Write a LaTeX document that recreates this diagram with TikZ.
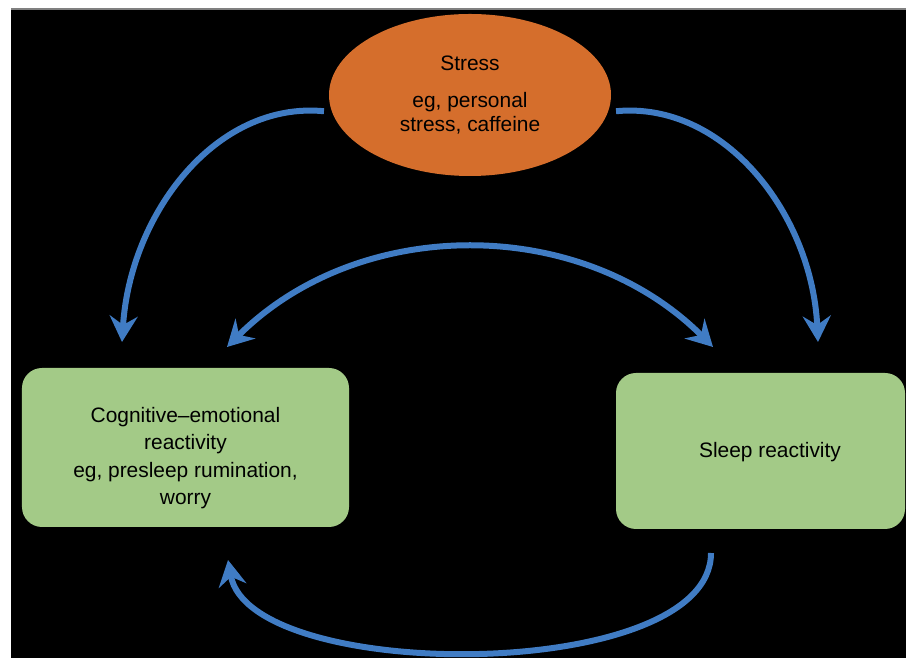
\documentclass[tikz,border=0pt]{standalone}
\usepackage{fontspec}
\setmainfont{Liberation Sans}
\usetikzlibrary{shapes.geometric, arrows.meta, positioning, calc}
\definecolor{arrowblue}{RGB}{64,124,196}
\definecolor{stressorange}{RGB}{213,110,44}
\definecolor{boxgreen}{RGB}{163,202,135}
\begin{document}
\begin{tikzpicture}[x=1bp,y=1bp,
    stressnode/.style={ellipse,fill=stressorange,minimum width=282bp,minimum height=162bp,inner sep=0pt,align=center,font=\fontsize{21}{24}\selectfont},
    reactbox/.style={rectangle,rounded corners=20bp,fill=boxgreen,inner sep=0pt},
    boxtext/.style={align=center,font=\fontsize{21}{27.7}\selectfont},
    flow/.style={draw=arrowblue,line width=6bp,-{Stealth[length=26bp,width=28bp,inset=9bp]}},
    twoway/.style={draw=arrowblue,line width=6bp,{Stealth[length=26bp,width=28bp,inset=9bp]}-{Stealth[length=26bp,width=28bp,inset=9bp]}}]
      \useasboundingbox (0,0) rectangle (906,658);
      \fill[white] (0,0) rectangle (906,658);
      \fill[black] (11,0) rectangle (906,649);
      \draw[gray,line width=1.5bp] (11,649) -- (906,649);

      % nodes
      \node[stressnode] (stress) at (470,563) {Stress\\[13bp]eg, personal\\stress, caffeine};
      \node[reactbox,minimum width=327bp,minimum height=159bp] (cog) at (185.5,210.5) {};
      \node[boxtext] (cogtext) at (185.5,200) {Cognitive–emotional\\reactivity\\eg, presleep rumination,\\worry};
      \node[reactbox,minimum width=289bp,minimum height=156bp] (sleep) at (760.5,207) {};
      \node[boxtext] (sleeptext) at (770,206) {Sleep reactivity};

      % free ends of the arrows
      \coordinate (cogin) at (122,316);
      \coordinate (sleepin) at (818,316);
      \coordinate (cogtop) at (227,311);
      \coordinate (sleeptop) at (713,311);
      \coordinate (sleepout) at (711,105);
      \coordinate (cogback) at (228,98);

      % arrows
      \draw[flow,shorten <=8bp] (stress.187) .. controls (215,557) and (130,443) .. (cogin);
      \draw[flow,shorten <=8bp] (stress.353) .. controls (725,557) and (812,443) .. (sleepin);
      \draw[twoway] (cogtop) .. controls (359,443) and (581,443) .. (sleeptop);
      \draw[flow] (sleepout) .. controls (711,-26) and (250,-26) .. (cogback);
\end{tikzpicture}
\end{document}
